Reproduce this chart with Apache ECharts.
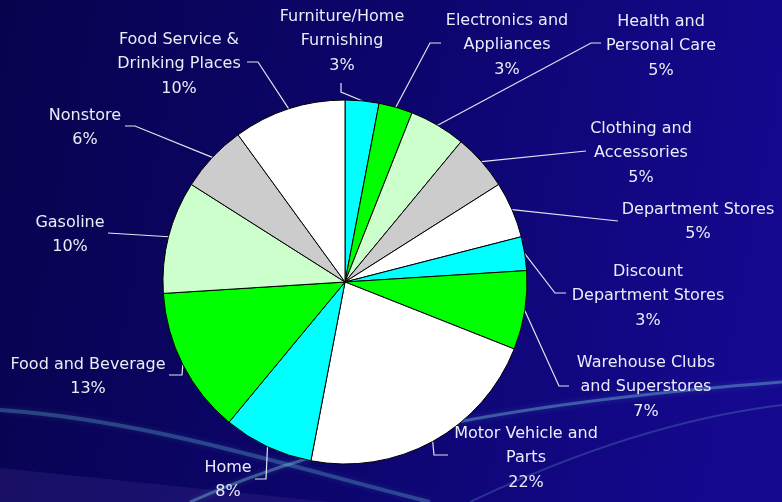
<!DOCTYPE html>
<html>
<head>
<meta charset="utf-8">
<script src="https://cdn.jsdelivr.net/npm/echarts@6/dist/echarts.min.js"></script>
<style>
  html, body { margin: 0; padding: 0; }
  #chart { width: 782px; height: 502px; }
</style>
</head>
<body>
<div id="chart"></div>
<script>
// ---- data ----
const categories = [
  'Furniture/Home\nFurnishing',
  'Electronics and\nAppliances',
  'Health and\nPersonal Care',
  'Clothing and\nAccessories',
  'Department Stores',
  'Discount\nDepartment Stores',
  'Warehouse Clubs\nand Superstores',
  'Motor Vehicle and\nParts',
  'Home',
  'Food and Beverage',
  'Gasoline',
  'Nonstore',
  'Food Service &\nDrinking Places'
];
const shares = [3, 3, 5, 5, 5, 3, 7, 22, 8, 13, 10, 6, 10];
const sliceColors = ['#00ffff', '#00ff00', '#ccffcc', '#cccccc', '#ffffff', '#00ffff', '#00ff00',
                     '#ffffff', '#00ffff', '#00ff00', '#ccffcc', '#cccccc', '#ffffff'];

// ---- layout (label placement only) ----
const pieCenter = [345, 282];
const pieRadius = 182;
const labelCenters = [
  [342, 41], [507, 45], [661, 46], [641, 153], [698, 222], [648, 296], [646, 387],
  [526, 458], [228, 480], [88, 377], [70, 235], [85, 128], [179, 64]
];
const labelLineTails = [
  [[341, 92], [341, 83]],
  [[430, 43], [441, 43]],
  [[591, 43], [601, 43]],
  [[586, 151]],
  [[618, 221]],
  [[555, 293], [566, 293]],
  [[559, 386], [569, 386]],
  [[434, 455], [448, 455]],
  [[266, 479], [255, 479]],
  [[182, 375], [169, 375]],
  [[108, 233]],
  [[135, 126], [125, 126]],
  [[258, 62], [247, 62]]
];

const total = shares.reduce((a, b) => a + b, 0);
const midAngles = [];
let acc = 0;
shares.forEach(v => { midAngles.push((acc + v / 2) / total * 2 * Math.PI); acc += v; });

const chart = echarts.init(document.getElementById('chart'));
chart.setOption({
  backgroundColor: {
    type: 'linear', x: 0, y: 0, x2: 1, y2: 0.3,
    colorStops: [{ offset: 0, color: '#08034d' }, { offset: 0.5, color: '#0c056c' }, { offset: 1, color: '#14098e' }]
  },
  animation: false,
  graphic: [
    { type: 'polygon', z: 0, silent: true, shape: { points: [[0, 468], [330, 502], [0, 502]] },
      style: { fill: 'rgba(70,50,150,0.25)' } },
    { type: 'bezierCurve', z: 0, silent: true,
      shape: { x1: 0, y1: 410, cpx1: 150, cpy1: 420, cpx2: 300, cpy2: 470, x2: 430, y2: 502 },
      style: { stroke: 'rgba(90,170,200,0.35)', lineWidth: 4, fill: null, shadowBlur: 6, shadowColor: 'rgba(90,170,200,0.5)' } },
    { type: 'bezierCurve', z: 0, silent: true,
      shape: { x1: 190, y1: 502, cpx1: 350, cpy1: 430, cpx2: 550, cpy2: 400, x2: 782, y2: 382 },
      style: { stroke: 'rgba(120,200,220,0.4)', lineWidth: 3, fill: null, shadowBlur: 6, shadowColor: 'rgba(120,200,220,0.5)' } },
    { type: 'bezierCurve', z: 0, silent: true,
      shape: { x1: 470, y1: 502, cpx1: 600, cpy1: 440, cpx2: 700, cpy2: 415, x2: 782, y2: 405 },
      style: { stroke: 'rgba(120,180,220,0.25)', lineWidth: 2, fill: null } }
  ],
  series: [{
    type: 'pie',
    z: 2,
    center: pieCenter,
    radius: pieRadius,
    startAngle: 90,
    clockwise: true,
    avoidLabelOverlap: false,
    data: categories.map((name, i) => ({ name: name, value: shares[i], itemStyle: { color: sliceColors[i] } })),
    itemStyle: { borderColor: '#000000', borderWidth: 1 },
    emphasis: { disabled: true },
    label: {
      show: true,
      position: 'outside',
      formatter: p => p.name + '\n' + p.value + '%',
      color: '#ececf8',
      fontFamily: 'DejaVu Sans',
      fontSize: 16,
      lineHeight: 24.5,
      align: 'center'
    },
    labelLine: { show: true, length: 10, length2: 10, lineStyle: { color: '#e4e4f0', width: 1.2 } },
    labelLayout: params => {
      const i = params.dataIndex;
      const a = midAngles[i];
      const start = [pieCenter[0] + pieRadius * Math.sin(a), pieCenter[1] - pieRadius * Math.cos(a)];
      return {
        x: labelCenters[i][0],
        y: labelCenters[i][1],
        align: 'center',
        verticalAlign: 'middle',
        labelLinePoints: [start].concat(labelLineTails[i])
      };
    }
  }]
});
</script>
</body>
</html>
